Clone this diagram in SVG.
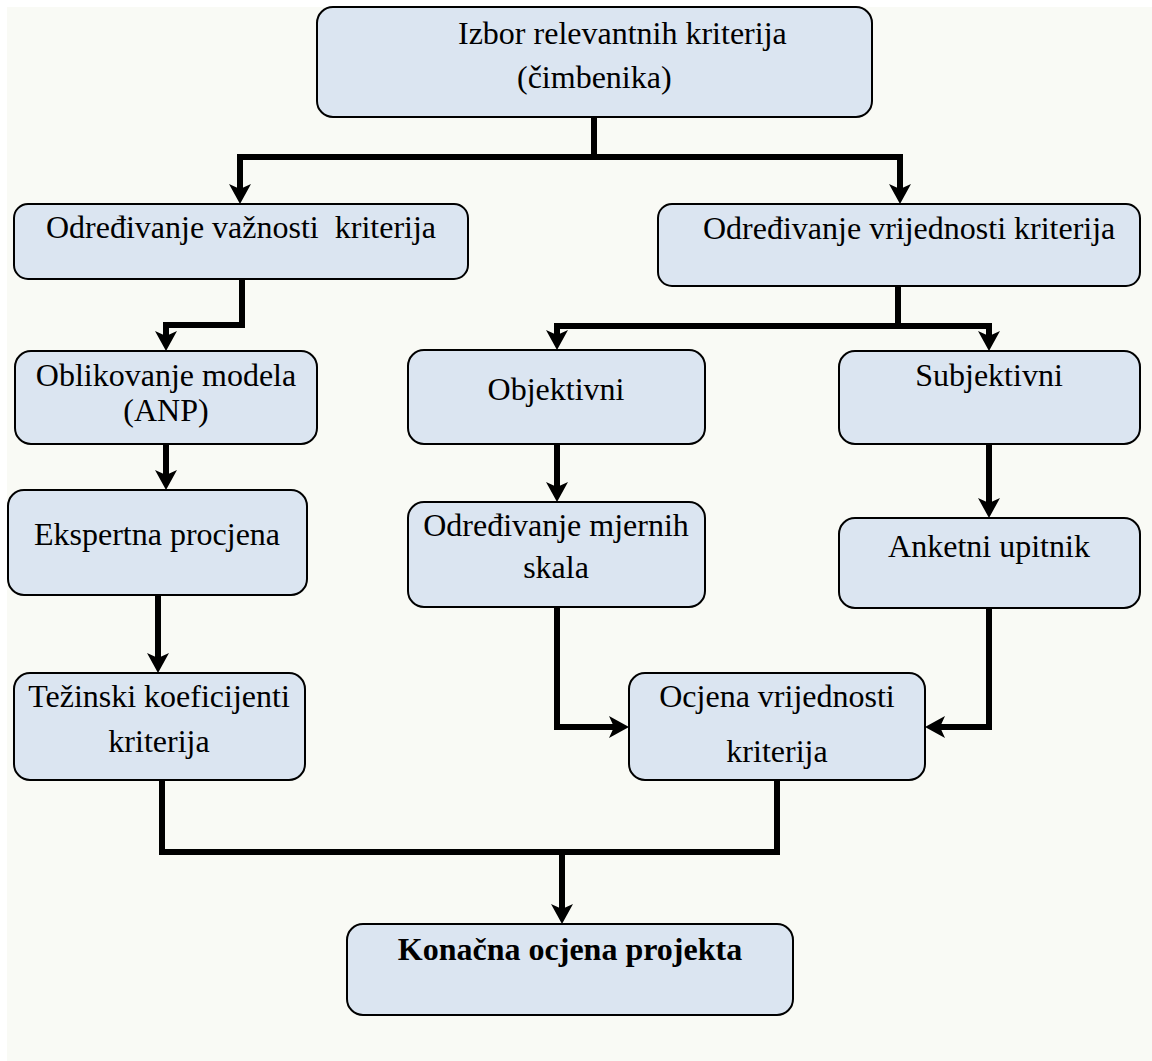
<svg xmlns="http://www.w3.org/2000/svg" width="1152" height="1061" viewBox="0 0 1152 1061">
<style>
.box{fill:#DBE5F1;stroke:#000;stroke-width:2}
.t{font-family:"Liberation Serif","Times New Roman",serif;font-size:32px;fill:#000}
.c{text-anchor:middle}
.b{font-weight:bold}
.ln{fill:none;stroke:#000;stroke-width:6;stroke-linejoin:miter}
</style>
<defs>
<marker id="ah" viewBox="0 0 20 22" refX="10" refY="11" markerWidth="20" markerHeight="22" markerUnits="userSpaceOnUse" orient="auto">
<path d="M0,0 L20,11 L0,22 L5,11 Z" fill="#000"/>
</marker>
</defs>
<rect x="0" y="0" width="1152" height="1061" fill="#FFFFFF"/>
<rect x="7" y="7" width="1145" height="1054" fill="#F9FAF5"/>

<g id="connectors">
<polyline class="ln" points="594,117 594,157 240,157 240,194" marker-end="url(#ah)"/>
<polyline class="ln" points="594,157 900,157 900,194" marker-end="url(#ah)"/>
<polyline class="ln" points="242,279 242,325 166,325 166,341" marker-end="url(#ah)"/>
<polyline class="ln" points="898,286 898,326 557,326 557,340" marker-end="url(#ah)"/>
<polyline class="ln" points="898,326 989,326 989,341" marker-end="url(#ah)"/>
<polyline class="ln" points="166,444 166,480" marker-end="url(#ah)"/>
<polyline class="ln" points="557,444 557,492" marker-end="url(#ah)"/>
<polyline class="ln" points="989,444 989,508" marker-end="url(#ah)"/>
<polyline class="ln" points="158,595 158,663" marker-end="url(#ah)"/>
<polyline class="ln" points="557,607 557,727 619,727" marker-end="url(#ah)"/>
<polyline class="ln" points="989,608 989,727 935,727" marker-end="url(#ah)"/>
<polyline class="ln" points="162,780 162,852 777,852 777,780"/>
<polyline class="ln" points="562,852 562,914" marker-end="url(#ah)"/>
</g>

<g id="n1"><rect class="box" x="317" y="7" width="555" height="110" rx="16"/>
<text class="t" x="458" y="44">Izbor relevantnih kriterija</text>
<text class="t" x="517" y="88">(čimbenika)</text></g>

<g id="n2"><rect class="box" x="14" y="204" width="454" height="75" rx="14"/>
<text class="t c" x="241" y="238" xml:space="preserve">Određivanje važnosti  kriterija</text></g>

<g id="n3"><rect class="box" x="658" y="204" width="482" height="82" rx="14"/>
<text class="t" x="703" y="239">Određivanje vrijednosti kriterija</text></g>

<g id="n4"><rect class="box" x="15" y="351" width="302" height="93" rx="16"/>
<text class="t c" x="166" y="386">Oblikovanje modela</text>
<text class="t c" x="166" y="421">(ANP)</text></g>

<g id="n5"><rect class="box" x="408" y="350" width="297" height="94" rx="16"/>
<text class="t c" x="556" y="400">Objektivni</text></g>

<g id="n6"><rect class="box" x="839" y="351" width="301" height="93" rx="16"/>
<text class="t c" x="989" y="386">Subjektivni</text></g>

<g id="n7"><rect class="box" x="8" y="490" width="299" height="105" rx="16"/>
<text class="t c" x="157" y="545">Ekspertna procjena</text></g>

<g id="n8"><rect class="box" x="408" y="502" width="297" height="105" rx="16"/>
<text class="t c" x="556" y="536">Određivanje mjernih</text>
<text class="t c" x="556" y="578">skala</text></g>

<g id="n9"><rect class="box" x="839" y="518" width="301" height="90" rx="16"/>
<text class="t c" x="989" y="557">Anketni upitnik</text></g>

<g id="n10"><rect class="box" x="14" y="673" width="291" height="107" rx="16"/>
<text class="t c" x="159" y="707">Težinski koeficijenti</text>
<text class="t c" x="159" y="752">kriterija</text></g>

<g id="n11"><rect class="box" x="629" y="673" width="296" height="107" rx="16"/>
<text class="t c" x="777" y="707">Ocjena vrijednosti</text>
<text class="t c" x="777" y="762">kriterija</text></g>

<g id="n12"><rect class="box" x="347" y="924" width="446" height="91" rx="16"/>
<text class="t c b" x="570" y="960">Konačna ocjena projekta</text></g>
</svg>
